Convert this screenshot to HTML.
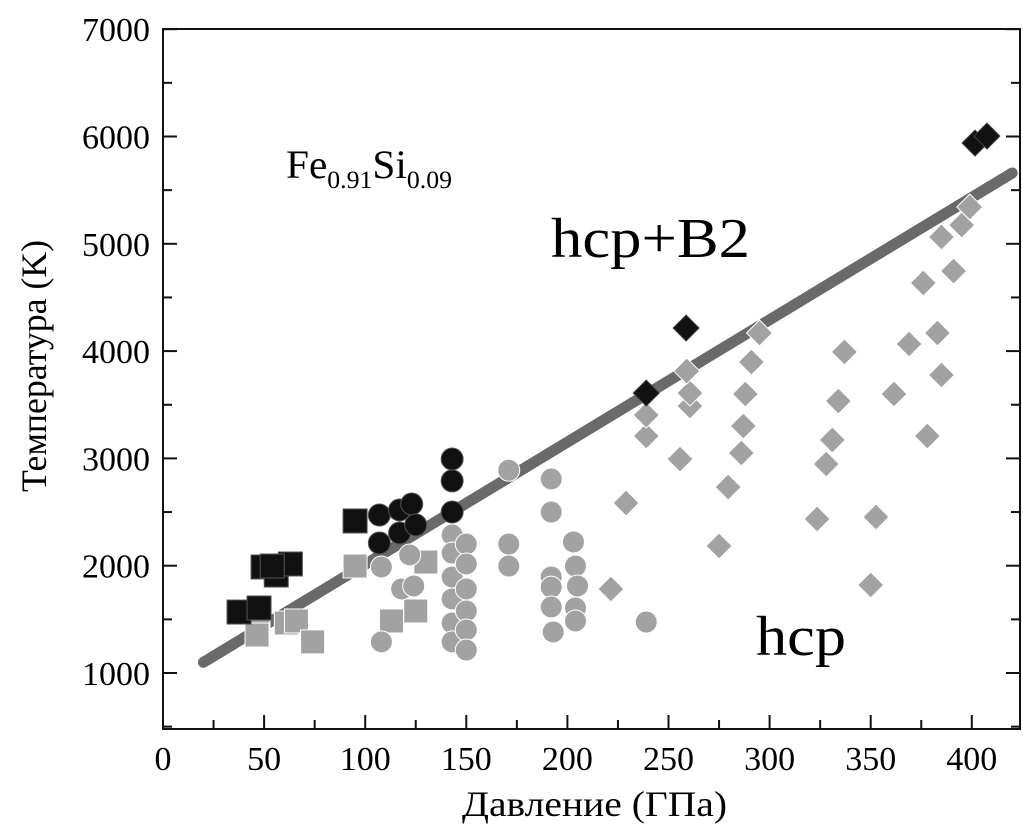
<!DOCTYPE html>
<html><head><meta charset="utf-8"><style>
body{margin:0;background:#fff}
svg{display:block;font-family:"Liberation Serif",serif}
</style></head><body>
<svg id="chart" width="1023" height="837" viewBox="0 0 1023 837" xmlns="http://www.w3.org/2000/svg">
<g id="marks"></g>
<rect x="163" y="29" width="857" height="700" fill="none" stroke="#111" stroke-width="2"/>
<g id="axes"></g>
<text x="286" y="178" font-size="40" textLength="166" lengthAdjust="spacingAndGlyphs">Fe<tspan font-size="25" dy="10">0.91</tspan><tspan dy="-10">Si</tspan><tspan font-size="25" dy="10">0.09</tspan></text>
<text x="551" y="257" font-size="56" textLength="199" lengthAdjust="spacingAndGlyphs">hcp+B2</text>
<text x="756" y="655" font-size="56" textLength="90" lengthAdjust="spacingAndGlyphs">hcp</text>
<text x="462" y="816" font-size="36" textLength="265" lengthAdjust="spacingAndGlyphs">Давление (ГПа)</text>
<text transform="translate(46,492) rotate(-90)" font-size="36" textLength="252" lengthAdjust="spacingAndGlyphs">Температура (K)</text>
</svg>
<script>
const xTicks=[0,50,100,150,200,250,300,350,400];
const yTicks=[1000,2000,3000,4000,5000,6000,7000];
const boundaryP=[20,420];
const boundaryT=[1100,5660];
const blackSqP=[37.6,47.5,49.5,56,63,54,95];
const blackSqT=[1568,1606,1988,1913,2016,1997,2417];
const blackCircP=[107,117,123,107,117,125,143,143,143];
const blackCircT=[2472,2519,2575,2212,2305,2380,2500,2994,2790];
const graySqP=[47,46.5,61,66,74,95,113,125,130];
const graySqT=[1485,1354,1466,1485,1290,1997,1485,1578,2034];
const grayCircP=[108,108,118,124,122,143,143,143,143,143,143,150,150,150,150,150,150,171,171,171,192,192,192,192,192,193,203,204,205,204,204,239];
const grayCircT=[1988,1290,1783,1811,2100,2286,2118,1895,1690,1466,1290,2202,2016,1783,1578,1401,1214,2202,1997,2890,2808,2500,1895,1800,1615,1382,2221,1997,1811,1606,1485,1475];
const grayDiaP=[229,221.5,275,279.5,255.7,239,239,260.6,260.6,259,286,287,288,291,295,323.5,328,331,334,337,350,352.6,361.5,369,378,385,383,376,385,391,395,399];
const grayDiaT=[2584,1783,2184,2733,2994,3209,3404,3488,3609,3814,3050,3302,3600,3898,4169,2435,2948,3172,3535,3992,1820,2454,3600,4066,3209,3777,4169,4635,5063,4746,5175,5343];
const blackDiaP=[258.7,239,401.6,407.5];
const blackDiaT=[4215,3609,5939,6004];

const NS="http://www.w3.org/2000/svg";
const X=p=>163+p*2.022;
const Y=t=>673-(t-1000)*0.1073;
const marks=document.getElementById('marks');
const axes=document.getElementById('axes');
function mk(tag,attrs,parent){const e=document.createElementNS(NS,tag);for(const k in attrs)e.setAttribute(k,attrs[k]);parent.appendChild(e);return e;}

for(let p=25;p<=420;p+=25){
  const major=p%50===0;
  const t=mk('line',{x1:X(p),x2:X(p),y1:729,y2:729-(major?14:9),stroke:'#111','stroke-width':2},axes);
  
  
}
for(let v=500;v<=7000;v+=500){
  const major=v%1000===0;
  const t=mk('line',{x1:163,x2:163+(major?14:9),y1:Y(v),y2:Y(v),stroke:'#111','stroke-width':2},axes);
  
  
  const t2=mk('line',{x1:1020,x2:1020-(major?14:9),y1:Y(v),y2:Y(v),stroke:'#111','stroke-width':2},axes);
  
  
}
xTicks.forEach(v=>{
  const s=String(v);
  const w=s.length*17;
  const t=mk('text',{x:X(v)-w/2,y:770,'font-size':34,textLength:w,lengthAdjust:'spacingAndGlyphs'},axes);
  t.textContent=s;
  
  
});
yTicks.forEach(v=>{
  const s=String(v);
  const w=s.length*17;
  const t=mk('text',{x:150-w,y:Y(v)+12,'font-size':34,textLength:w,lengthAdjust:'spacingAndGlyphs'},axes);
  t.textContent=s;
  
  
});

const bl=mk('line',{x1:X(boundaryP[0]),y1:Y(boundaryT[0]),x2:X(boundaryP[1]),y2:Y(boundaryT[1]),stroke:'#6a6a6a','stroke-width':11,'stroke-linecap':'round'},marks);



const GRAY='#a2a2a2',BLK='#111';
function sq(P,T,fill,name){P.forEach((p,i)=>{const s=24;const e=mk('rect',{x:X(p)-s/2,y:Y(T[i])-s/2,width:s,height:s,fill:fill,stroke:fill===GRAY?'#fff':'#555','stroke-width':1},marks);

});}
function circ(P,T,fill,name){P.forEach((p,i)=>{const e=mk('circle',{cx:X(p),cy:Y(T[i]),r:11,fill:fill,stroke:fill===GRAY?'#fff':'#555','stroke-width':1},marks);

});}
function dia(P,T,fill,name){P.forEach((p,i)=>{const x=X(p),y=Y(T[i]),r=13;const e=mk('polygon',{points:`${x},${y-r} ${x+r},${y} ${x},${y+r} ${x-r},${y}`,fill:fill,stroke:fill===GRAY?'#fff':'#444','stroke-width':1},marks);

});}
sq(graySqP,graySqT,GRAY,'gray-square-point');
circ(grayCircP,grayCircT,GRAY,'gray-circle-point');
dia(grayDiaP,grayDiaT,GRAY,'gray-diamond-point');
sq(blackSqP,blackSqT,BLK,'black-square-point');
circ(blackCircP,blackCircT,BLK,'black-circle-point');
dia(blackDiaP,blackDiaT,BLK,'black-diamond-point');
</script>
</body></html>
